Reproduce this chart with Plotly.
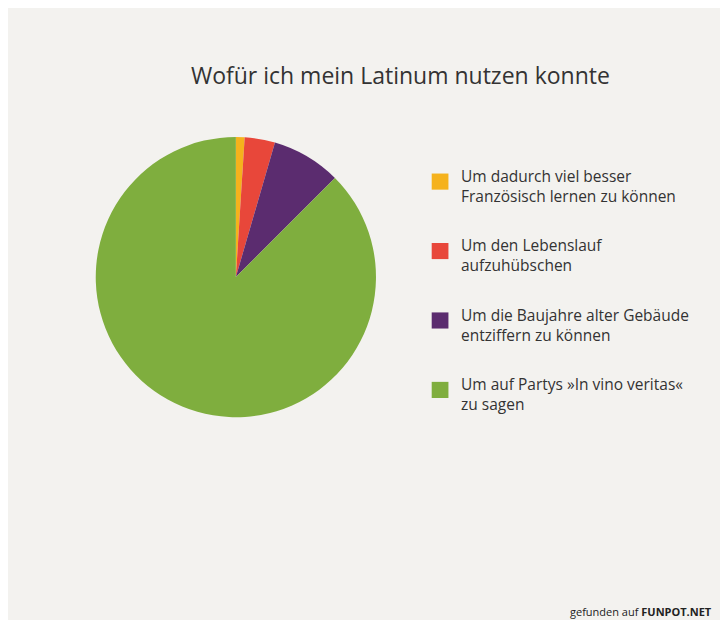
import plotly.graph_objects as go

labels = [
    "Um dadurch viel besser<br>Französisch lernen zu können",
    "Um den Lebenslauf<br>aufzuhübschen",
    "Um die Baujahre alter Gebäude<br>entziffern zu können",
    "Um auf Partys »In vino veritas«<br>zu sagen",
]
values = [1.0, 3.5, 8.0, 87.5]
colors = ["#f5b21c", "#e8473a", "#5b2c6f", "#7fae3e"]

fig = go.Figure(go.Pie(
    labels=labels, values=values, sort=False, direction="clockwise", rotation=0,
    marker=dict(colors=colors), textinfo="none", hoverinfo="label+percent",
    domain=dict(x=[0.118, 0.508], y=[0.34, 0.792]), showlegend=False,
))

annotations = []
shapes = []
top = 0.72
step = 0.112
for i, (lab, col) in enumerate(zip(labels, colors)):
    y = top - i * step
    shapes.append(dict(type="rect", xref="paper", yref="paper",
                       x0=0.582, x1=0.605, y0=y - 0.013, y1=y + 0.013,
                       fillcolor=col, line=dict(width=0)))
    annotations.append(dict(text=lab, x=0.62, y=y + 0.03, xref="paper", yref="paper",
                            xanchor="left", yanchor="top", align="left", showarrow=False,
                            font=dict(size=15.5, color="#333")))
annotations.append(dict(text="gefunden auf <b>FUNPOT.NET</b>", x=0.97, y=0.012,
                        xref="paper", yref="paper", xanchor="right", yanchor="bottom",
                        showarrow=False, font=dict(size=11, color="#222")))

fig.update_layout(
    width=728, height=620,
    paper_bgcolor="#f3f2ef", plot_bgcolor="#f3f2ef",
    margin=dict(l=0, r=0, t=0, b=0),
    font=dict(family="Open Sans", color="#333"),
    title=dict(text="Wofür ich mein Latinum nutzen konnte", x=0.539, xanchor="center",
               y=0.89, yanchor="middle", font=dict(size=23, color="#333")),
    annotations=annotations, shapes=shapes,
)
fig.write_html("out.html")
